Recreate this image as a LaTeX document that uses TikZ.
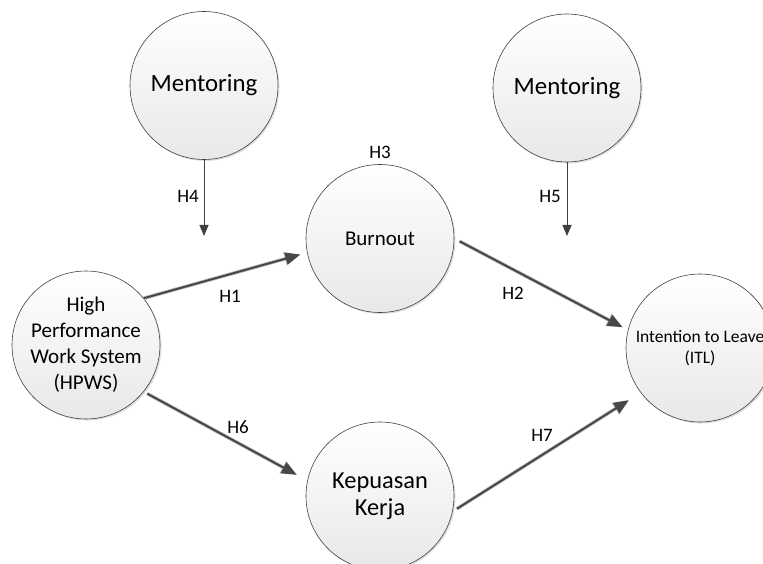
\documentclass[tikz,border=0pt]{standalone}
\usepackage{fontspec}
\setmainfont{Carlito}
\usetikzlibrary{arrows.meta,shadows}
\tikzset{
  var/.style={circle, minimum size=148pt, inner sep=0pt, draw=black!75, line width=0.6pt,
    top color=white, bottom color=black!9, align=center,
    drop shadow={shadow xshift=1.5pt, shadow yshift=-1.5pt, opacity=0.25, fill=black!50}},
  big/.style={font=\fontsize{24.8}{27}\selectfont},
  kepf/.style={font=\fontsize{24.4}{27}\selectfont},
  mid/.style={font=\fontsize{21}{26}\selectfont},
  small/.style={font=\fontsize{17.5}{21}\selectfont},
  hlab/.style={font=\fontsize{19}{22}\selectfont, inner sep=0pt},
  mainarrow/.style={draw=black!72, line width=2pt, -{Triangle[length=15pt,width=12pt]},
    preaction={draw=black!25, line width=3.6pt, -{Triangle[length=16pt,width=13pt]}}},
  modarrow/.style={draw=black!75, line width=1pt, -{Triangle[length=11pt,width=9pt]}}
}
\begin{document}
\begin{tikzpicture}[x=1pt,y=-1pt]
\useasboundingbox (0,0) rectangle (763,564);
\clip (0,0) rectangle (763,564);
\node[var,big] (ment1) at (204,85.5) {Mentoring};
\node[var,big] (ment2) at (567,88) {Mentoring};
\node[var,mid] (burn) at (380,238.5) {Burnout};
\node[var,mid] (hpws) at (86,345) {High\\Performance\\Work System\\(HPWS)};
\node[var,kepf] (kep) at (380,496) {Kepuasan\\Kerja};
\node[var,small] (itl) at (700,348) {Intention to Leave\\(ITL)};
\coordinate (m1end) at (204,236);
\coordinate (m2end) at (567,236);
\draw[modarrow] (ment1.south) -- (m1end);
\draw[modarrow] (ment2.south) -- (m2end);
\draw[mainarrow, shorten >=7pt] (hpws.39) -- (burn.191);
\draw[mainarrow, shorten <=6pt, shorten >=6pt] (burn.0) -- (itl.166);
\draw[mainarrow, shorten <=4pt, shorten >=12pt] (hpws.321) -- (kep.168);
\draw[mainarrow, shorten <=5pt, shorten >=14pt] (kep.348) -- (itl.217);
\node[hlab] (h1) at (230,296) {H1};
\node[hlab] (h2) at (513,293) {H2};
\node[hlab] (h3) at (380,152) {H3};
\node[hlab] (h4) at (188,196) {H4};
\node[hlab] (h5) at (550,196) {H5};
\node[hlab] (h6) at (238,427) {H6};
\node[hlab] (h7) at (542,435) {H7};
\end{tikzpicture}
\end{document}
